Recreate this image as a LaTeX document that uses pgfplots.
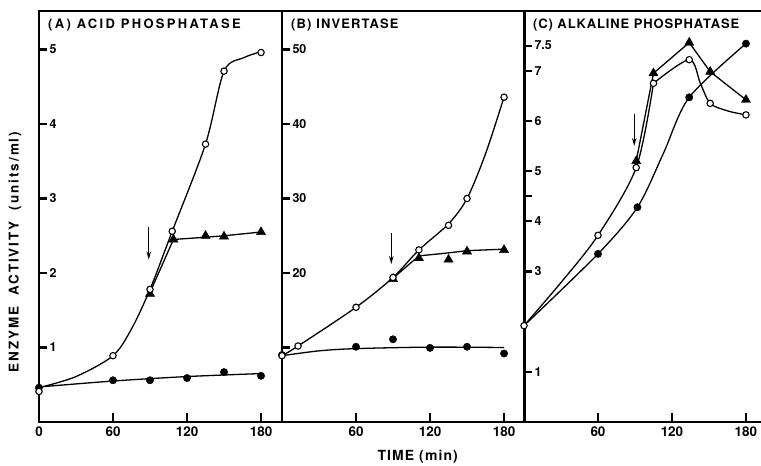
\documentclass[border=0pt]{standalone}
\usepackage{fontspec}
\setmainfont{TeX Gyre Heros}
\usepackage{pgfplots}
\pgfplotsset{compat=1.18}
\usetikzlibrary{arrows.meta}
\pgfplotsset{
  panel/.style={
    scale only axis, width=243bp, height=411bp,
    xmin=0, ymin=0,
    axis line style={line width=2.6bp},
    every tick/.style={line width=2.2bp, black},
    major tick length=8bp,
    tick align=inside,
    xtick pos=left, ytick pos=left,
    xtick={60,120,180},
    xticklabel style={font=\bfseries\fontsize{13.5}{13.5}\selectfont, yshift=-1bp},
    yticklabel style={font=\bfseries\fontsize{12.5}{12.5}\selectfont, anchor=west, xshift=7bp},
    clip=false,
    /pgf/number format/assume math mode=true,
  },
  ln/.style={black, line width=1.3bp, smooth, no markers},
  sl/.style={black, line width=1.3bp, sharp plot, no markers},
  oc/.style={only marks, mark=*, mark size=3.2bp, mark options={fill=white, draw=black, line width=1.1bp}},
  fc/.style={only marks, mark=*, mark size=3.7bp, mark options={fill=black, draw=black}},
  tr/.style={only marks, mark=triangle*, mark size=5.3bp, mark options={fill=black, draw=black}},
}
\tikzset{
  arr/.style={-{Stealth[length=8bp,width=4.5bp]}, line width=1.3bp, black},
  tk/.style={line width=2.2bp, black},
  ttl/.style={anchor=north west, inner sep=0pt, font=\bfseries\fontsize{13}{13}\selectfont},
}
\begin{document}
\begin{tikzpicture}
% ---------------- (A)
\begin{axis}[panel, at={(0,0)}, xmax=197, ymax=5.517,
  xtick={0,60,120,180}, ytick={1,2,3,4,5}]
\pgfplotsinvokeforeach{1,2,3,4,5}{\draw[tk] (axis cs:0,#1) -- ++(8bp,0);}
\pgfplotsinvokeforeach{60,120,180}{\draw[tk] (axis cs:#1,0) -- ++(0,8.5bp);}
\addplot[ln] coordinates {(0,0.46) (30,0.61) (60,0.89) (75,1.25) (90,1.78) (108,2.56) (135,3.73) (150,4.71) (166,4.89) (180,4.97)};
\addplot[ln] coordinates {(0,0.47) (60,0.55) (120,0.61) (180,0.65)};
\addplot[sl] coordinates {(90,1.74) (109,2.45) (135,2.48) (150,2.50) (180,2.55)};
\addplot[fc] coordinates {(0,0.46) (60,0.56) (90,0.56) (120,0.59) (150,0.67) (180,0.62)};
\addplot[tr] coordinates {(90,1.72) (109,2.45) (135,2.50) (150,2.49) (180,2.55)};
\addplot[oc] coordinates {(0,0.41) (60,0.89) (90,1.78) (108,2.56) (135,3.73) (150,4.71) (180,4.96)};
\draw[arr] (axis cs:89,2.62) -- (axis cs:89,2.18);
\node[ttl] at ([xshift=9bp,yshift=-8bp]rel axis cs:0,1) {\addfontfeature{LetterSpace=18}(A) ACID PHOSPHATASE};
\node[rotate=90, font=\bfseries\fontsize{13.5}{13.5}\selectfont\addfontfeature{LetterSpace=14}] at ([xshift=-24bp]axis cs:0,2.28) {ENZYME\ \ ACTIVITY\ \ (units\,/\,ml)};
\end{axis}
% ---------------- (B)
\begin{axis}[panel, at={(243bp,0)}, xmax=197, ymax=55.17,
  ytick={10,20,30,40,50}, yticklabels={{},20,30,40,50}]
\pgfplotsinvokeforeach{10,20,30,40,50}{\draw[tk] (axis cs:0,#1) -- ++(8bp,0);}
\pgfplotsinvokeforeach{60,120,180}{\draw[tk] (axis cs:#1,0) -- ++(0,8.5bp);}
\addplot[ln] coordinates {(0,8.9) (13,10.2) (60,15.4) (90,19.4) (111,23.1) (135,26.6) (150,30.0) (165,36.0) (180,43.6)};
\addplot[ln] coordinates {(0,8.9) (30,9.55) (60,9.85) (120,10.05) (180,10.0)};
\addplot[sl] coordinates {(90,19.3) (111,22.3) (135,22.7) (150,23.0) (180,23.2)};
\addplot[fc] coordinates {(0,9.0) (60,10.1) (90,11.1) (120,9.95) (150,10.1) (180,9.2)};
\addplot[tr] coordinates {(90,19.2) (111,22.0) (135,21.8) (150,22.9) (180,23.1)};
\addplot[oc] coordinates {(0,8.9) (13,10.2) (60,15.4) (90,19.4) (111,23.1) (135,26.4) (150,30.0) (180,43.6)};
\draw[arr] (axis cs:88.6,25.4) -- (axis cs:88.6,21.2);
\node[ttl] at ([xshift=9bp,yshift=-8bp]rel axis cs:0,1) {\addfontfeature{LetterSpace=9}(B) INVERTASE};
\node[font=\bfseries\fontsize{14}{14}\selectfont\addfontfeature{LetterSpace=8}] at ([yshift=-35bp]axis cs:110,0) {TIME (min)};
\end{axis}
% ---------------- (C)
\begin{axis}[panel, at={(485bp,0)}, width=237bp, xmax=192.2, ymax=8.19,
  axis line style={draw=none},
  ytick={1,3,4,5,6,7,7.5}, yticklabels={1,3,4,5,6,7,7.5},
  extra y ticks={4.5}, extra y tick labels={}]
\draw[line width=2.6bp] (rel axis cs:1,0) -- (rel axis cs:0,0) -- (rel axis cs:0,1) -- (rel axis cs:1,1);
\pgfplotsinvokeforeach{1,3,4,4.5,5,6,7,7.5}{\draw[tk] (axis cs:0,#1) -- ++(8bp,0);}
\pgfplotsinvokeforeach{60,120,180}{\draw[tk] (axis cs:#1,0) -- ++(0,8.5bp);}
\addplot[ln] coordinates {(0,1.92) (30,2.78) (60,3.72) (91,5.07) (105,6.75)};
\addplot[ln] coordinates {(105,6.75) (134,7.22) (143,6.75) (151,6.35) (165,6.2) (180,6.12)};
\addplot[ln] coordinates {(0,1.92) (60,3.35) (92,4.28) (113,5.35) (134,6.47) (180,7.54)};
\addplot[sl] coordinates {(91,5.2) (105,6.95) (134,7.56) (151,6.98) (180,6.42)};
\addplot[fc] coordinates {(60,3.35) (92,4.28) (134,6.47) (180,7.54)};
\addplot[tr] coordinates {(91,5.2) (105,6.95) (134,7.56) (151,6.98) (180,6.42)};
\addplot[oc] coordinates {(0,1.92) (60,3.72) (91,5.07) (105,6.75) (134,7.22) (151,6.35) (180,6.12)};
\draw[arr] (axis cs:89.4,6.13) -- (axis cs:89.4,5.5);
\node[ttl] at ([xshift=9bp,yshift=-8bp]rel axis cs:0,1) {\addfontfeature{LetterSpace=7}(C) ALKALINE PHOSPHATASE};
\end{axis}
\pgfresetboundingbox
\path (-39bp,-44bp) rectangle (722bp,422bp);
\end{tikzpicture}
\end{document}
